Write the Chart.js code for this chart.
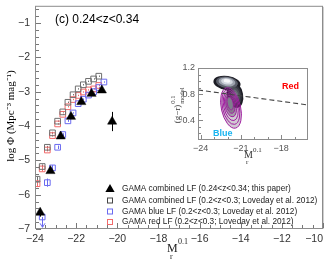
<!DOCTYPE html>
<html><head><meta charset="utf-8">
<script src="https://cdn.jsdelivr.net/npm/chart.js@4.4.0/dist/chart.umd.min.js"></script>
<style>
html,body{margin:0;padding:0;background:#fff;}
#wrap{position:relative;width:330px;height:259px;overflow:hidden;}
#main{position:absolute;left:0;top:0;}
#inset{position:absolute;left:160px;top:58px;}
</style></head><body>
<div id="wrap"><canvas id="main" width="330" height="259"></canvas><canvas id="inset" width="160" height="110"></canvas></div>
<script>
// ---------- data: main panel ----------
const xTickValues = [-24, -22, -20, -18, -16, -14, -12, -10];
const yTickValues = [-7, -6, -5, -4, -3, -2, -1];

const thisPaperMag = [-23.75, -23.25, -22.75, -22.25, -21.75, -21.25, -20.75, -20.25];
const thisPaperPhi = [-6.52, -5.31, -4.30, -3.73, -3.30, -3.06, -2.96, -3.87];
const thisPaperErr = [0.12, 0.06, 0.04, 0.03, 0.03, 0.03, 0.04, 0.28];

const lovAllMag = [-23.9, -23.65, -23.4, -23.15, -22.9, -22.65, -22.4, -22.15, -21.9, -21.65, -21.4, -21.15, -20.9];
const lovAllPhi = [-5.55, -5.18, -4.62, -4.20, -3.86, -3.59, -3.31, -3.09, -2.92, -2.80, -2.70, -2.63, -2.55];
const lovAllErr = [0.08, 0.06, 0.04, 0.03, 0.02, 0.02, 0.02, 0.02, 0.02, 0.02, 0.02, 0.02, 0.02];

const lovBlueMag = [-23.65, -23.4, -23.15, -22.9, -22.65, -22.4, -22.15, -21.9, -21.65, -21.4, -21.15, -20.9, -20.65];
const lovBluePhi = [-6.65, -5.65, -5.22, -4.62, -4.25, -3.85, -3.62, -3.35, -3.22, -3.10, -3.00, -2.88, -2.72];
const lovBlueErr = [0.30, 0.12, 0.08, 0.05, 0.04, 0.03, 0.02, 0.02, 0.02, 0.02, 0.02, 0.02, 0.02];
const lovBlueLimit = [true, false, false, false, false, false, false, false, false, false, false, false, false];

const lovRedMag = [-23.9, -23.65, -23.4, -23.15, -22.9, -22.65, -22.4, -22.15, -21.9, -21.65, -21.4, -21.15, -20.9];
const lovRedPhi = [-5.68, -5.25, -4.70, -4.28, -3.94, -3.66, -3.44, -3.23, -3.11, -3.01, -2.95, -2.92, -2.82];
const lovRedErr = [0.10, 0.07, 0.04, 0.03, 0.02, 0.02, 0.02, 0.02, 0.02, 0.02, 0.02, 0.02, 0.02];

const legendLabels = [
  'GAMA combined LF (0.24<z<0.34; this paper)',
  'GAMA combined LF (0.2<z<0.3; Loveday et al. 2012)',
  'GAMA blue LF (0.2<z<0.3; Loveday et al. 2012)',
  'GAMA red LF (0.2<z<0.3; Loveday et al. 2012)'
];
const panelLabel = '(c) 0.24<z<0.34';

// ---------- data: inset ----------
const insetXTicks = [-24, -21, -18];
const insetYTicks = [0.4, 0.8, 1.2];
const dividerX = [-24.2, -16];
const dividerY = [0.864, 0.635];
// red-sequence density lobes
const blobX = [-21.44, -22.04];
const blobY = [0.787, 0.971];
const blobRX = [0.60, 1.02];
const blobRY = [0.20, 0.108];
// blue-cloud contour levels (outer -> inner)
const contourX = [-21.74, -21.75, -21.76, -21.78, -21.79, -21.80];
const contourY = [0.589, 0.603, 0.617, 0.631, 0.645, 0.658];
const contourRX = [0.72, 0.62, 0.52, 0.42, 0.32, 0.22];
const contourRY = [0.315, 0.27, 0.225, 0.18, 0.14, 0.10];

const SANS = "'Liberation Sans', Arial, sans-serif";
const SERIF = "'Liberation Serif', 'Times New Roman', serif";
const zip = (a, b) => a.map((v, i) => ({x: v, y: b[i]}));
const fmtNeg = v => (v < 0 ? '\u2212' : '') + Math.abs(v);

const COL_GRAY = '#6e6e6e', COL_BLUE = '#6a6af0', COL_RED = '#f26a6a';

const errorSets = [
  {mag: lovAllMag, phi: lovAllPhi, err: lovAllErr, color: COL_GRAY},
  {mag: lovBlueMag, phi: lovBluePhi, err: lovBlueErr, color: COL_BLUE, limit: lovBlueLimit},
  {mag: lovRedMag, phi: lovRedPhi, err: lovRedErr, color: COL_RED},
  {mag: thisPaperMag, phi: thisPaperPhi, err: thisPaperErr, color: '#000'}
];

function fitFont(ctx, text, width, family, maxSize) {
  let s = maxSize;
  while (s > 5) { ctx.font = s + 'px ' + family; if (ctx.measureText(text).width <= width) break; s -= 0.25; }
  return s;
}

const mainDecor = {
  id: 'mainDecor',
  beforeDatasetsDraw(chart) {
    const {ctx, scales: {x, y}} = chart;
    errorSets.forEach(s => {
      ctx.save(); ctx.strokeStyle = s.color; ctx.fillStyle = s.color; ctx.lineWidth = 1;
      s.mag.forEach((m, i) => {
        const e = s.err[i]; if (!e) return;
        const px = Math.round(x.getPixelForValue(m)) + 0.5;
        const lo = y.getPixelForValue(s.phi[i] - e);
        const hi = s.limit && s.limit[i] ? y.getPixelForValue(s.phi[i]) : y.getPixelForValue(s.phi[i] + e);
        ctx.beginPath(); ctx.moveTo(px, lo); ctx.lineTo(px, hi); ctx.stroke();
        if (s.limit && s.limit[i]) {
          ctx.beginPath(); ctx.moveTo(px - 2.5, lo - 4); ctx.lineTo(px, lo); ctx.lineTo(px + 2.5, lo - 4); ctx.stroke();
        }
      });
      ctx.restore();
    });
  },
  afterDraw(chart) {
    const {ctx, chartArea: a, scales: {x, y}} = chart;
    ctx.save();
    // frame
    ctx.strokeStyle = '#8c8c8c'; ctx.lineWidth = 1;
    ctx.strokeRect(a.left + 0.5, a.top + 0.5, a.right - a.left - 1, a.bottom - a.top - 1);
    ctx.strokeStyle = '#cfcfcf';
    ctx.beginPath(); ctx.moveTo(a.right + 0.5, a.top + 1); ctx.lineTo(a.right + 0.5, a.bottom); ctx.stroke();
    // ticks (inward)
    ctx.strokeStyle = '#777';
    for (let i = -48; i <= -20; i++) {
      const v = i / 2, px = Math.round(x.getPixelForValue(v)) + 0.5;
      const len = (i % 4 === 0) ? 5 : 3;
      ctx.beginPath(); ctx.moveTo(px, a.bottom - 1); ctx.lineTo(px, a.bottom - 1 - len); ctx.stroke();
    }
    for (let i = -35; i <= -3; i++) {
      const v = i / 5, py = Math.round(y.getPixelForValue(v)) + 0.5;
      const len = (i % 5 === 0) ? 5 : 3;
      ctx.beginPath(); ctx.moveTo(a.left + 1, py); ctx.lineTo(a.left + 1 + len, py); ctx.stroke();
    }
    // x tick labels
    ctx.fillStyle = '#333'; ctx.font = '10.5px ' + SANS; ctx.textBaseline = 'middle'; ctx.textAlign = 'center';
    xTickValues.forEach(v => {
      const t = fmtNeg(v), w = ctx.measureText(t).width;
      let cx = x.getPixelForValue(v);
      if (cx + w / 2 > a.right) cx = a.right - w / 2;
      ctx.fillText(t, cx, a.bottom + 10);
    });
    // panel label
    ctx.fillStyle = '#000';
    fitFont(ctx, panelLabel, 88, SANS, 12);
    ctx.textAlign = 'left'; ctx.fillText(panelLabel, 55, 20);
    // y title (rotated)
    ctx.save();
    ctx.translate(11, 116); ctx.rotate(-Math.PI / 2);
    ctx.font = '11px ' + SERIF; ctx.textAlign = 'center'; ctx.fillStyle = '#000';
    ctx.fillText('log \u03A6 (Mpc\u207B\u00B3 mag\u207B\u00B9)', 0, 0);
    ctx.restore();
    // x title
    ctx.font = '12px ' + SERIF; ctx.textAlign = 'left'; ctx.fillStyle = '#222';
    ctx.fillText('M', 167, 249);
    ctx.font = '8px ' + SERIF;
    ctx.fillText('0.1', 178, 242);
    ctx.fillText('r', 170, 257);
    // legend
    const lx = 110, rows = [189, 200.5, 211.5, 222];
    const fs = fitFont(ctx, legendLabels[1], 196, SANS, 10);
    ctx.font = fs + 'px ' + SANS; ctx.fillStyle = '#222'; ctx.textAlign = 'left'; ctx.textBaseline = 'middle';
    legendLabels.forEach((t, i) => ctx.fillText(t, 122, rows[i]));
    ctx.fillStyle = '#000';
    ctx.beginPath(); ctx.moveTo(lx, rows[0] - 5); ctx.lineTo(lx + 4.6, rows[0] + 3); ctx.lineTo(lx - 4.6, rows[0] + 3); ctx.closePath(); ctx.fill();
    [COL_GRAY, COL_BLUE, COL_RED].forEach((c, i) => {
      ctx.strokeStyle = i === 0 ? '#444' : c; ctx.lineWidth = 1;
      ctx.strokeRect(lx - 2.5, rows[i + 1] - 2.5, 5, 5);
    });
    ctx.restore();
  }
};

const sq = (mag, phi, col) => ({data: zip(mag, phi), pointStyle: 'rect', pointRadius: 4, pointBorderWidth: 1,
  backgroundColor: 'rgba(0,0,0,0)', borderColor: col, showLine: false});

new Chart(document.getElementById('main'), {
  type: 'scatter',
  data: {datasets: [
    {data: zip(thisPaperMag, thisPaperPhi), pointStyle: 'triangle', pointRadius: 5.3, pointBorderWidth: 0.5,
      backgroundColor: '#000', borderColor: '#000', showLine: false},
    sq(lovAllMag, lovAllPhi, COL_GRAY),
    sq(lovBlueMag, lovBluePhi, COL_BLUE),
    sq(lovRedMag, lovRedPhi, COL_RED)
  ]},
  options: {
    responsive: false, animation: false, devicePixelRatio: 1,
    layout: {padding: {top: 2, right: 7, left: 0, bottom: 0}},
    plugins: {legend: {display: false}, tooltip: {enabled: false}},
    scales: {
      x: {type: 'linear', min: -24, max: -10,
        afterFit(s) { s.height = 30; s.paddingLeft = 0; s.paddingRight = 0; },
        afterBuildTicks(s) { s.ticks = xTickValues.map(v => ({value: v})); },
        ticks: {display: false}, grid: {display: false, drawTicks: false}, border: {display: false}},
      y: {type: 'linear', min: -7, max: -0.5,
        afterFit(s) { s.width = 35; s.paddingTop = 0; s.paddingBottom = 0; },
        afterBuildTicks(s) { s.ticks = yTickValues.map(v => ({value: v})); },
        ticks: {callback: v => fmtNeg(v), font: {family: SANS, size: 10.5}, color: '#333', padding: 5},
        grid: {display: false, drawTicks: false}, border: {display: false}}
    }
  },
  plugins: [mainDecor]
});

// ---------- inset ----------
const insetDecor = {
  id: 'insetDecor',
  beforeDatasetsDraw(chart) {
    const {ctx, chartArea: a, scales: {x, y}} = chart;
    ctx.save();
    ctx.beginPath(); ctx.rect(a.left, a.top, a.right - a.left, a.bottom - a.top); ctx.clip();
    const pxPerX = Math.abs(x.getPixelForValue(1) - x.getPixelForValue(0));
    const pxPerY = Math.abs(y.getPixelForValue(1) - y.getPixelForValue(0));
    const shades = [
      ['#1c1c24', '#34363f', '#4d5059', '#676b75', '#858a94'],
      ['#1c1c24', '#5a5e69', '#9ca2ad', '#d3d8df', '#f7f8fa']
    ];
    for (let k = 0; k < 5; k++) {
      blobX.forEach((bx, j) => {
        const f = 1 - k * 0.19;
        const cx = x.getPixelForValue(bx), cy = y.getPixelForValue(blobY[j] + (j === 1 ? k * 0.008 : 0));
        ctx.fillStyle = shades[j][k];
        ctx.beginPath(); ctx.ellipse(cx, cy, blobRX[j] * pxPerX * f, blobRY[j] * pxPerY * f, j === 0 ? -0.2 : 0.15, 0, Math.PI * 2); ctx.fill();
      });
    }
    // blue cloud contours
    contourX.forEach((cxv, i) => {
      const cx = x.getPixelForValue(cxv), cy = y.getPixelForValue(contourY[i]);
      ctx.beginPath(); ctx.ellipse(cx, cy, contourRX[i] * pxPerX, contourRY[i] * pxPerY, -0.22, 0, Math.PI * 2);
      if (i === 0) { ctx.fillStyle = 'rgba(70,40,80,0.25)'; ctx.fill(); }
      if (i >= 3) { ctx.fillStyle = i === 5 ? '#7e7e8c' : 'rgba(80,70,90,0.35)'; ctx.fill(); }
      ctx.strokeStyle = '#a01ea0'; ctx.lineWidth = 1; ctx.stroke();
    });
    ctx.restore();
  },
  afterDraw(chart) {
    const {ctx, chartArea: a, scales: {x, y}} = chart;
    ctx.save();
    ctx.strokeStyle = '#8c8c8c'; ctx.lineWidth = 1;
    ctx.strokeRect(a.left + 0.5, a.top + 0.5, a.right - a.left - 1, a.bottom - a.top - 1);
    ctx.strokeStyle = '#888';
    for (let v = -24; v <= -17; v++) {
      const px = Math.round(x.getPixelForValue(v)) + 0.5, len = (v % 3 === 0) ? 4 : 2;
      ctx.beginPath(); ctx.moveTo(px, a.bottom - 1); ctx.lineTo(px, a.bottom - 1 - len); ctx.stroke();
    }
    for (let i = 2; i <= 11; i++) {
      const py = Math.round(y.getPixelForValue(i / 10)) + 0.5, len = (i % 4 === 0) ? 4 : 2;
      ctx.beginPath(); ctx.moveTo(a.left + 1, py); ctx.lineTo(a.left + 1 + len, py); ctx.stroke();
    }
    // labels
    ctx.font = 'bold 9px ' + SANS; ctx.textBaseline = 'middle'; ctx.textAlign = 'left';
    ctx.fillStyle = '#ff0000'; ctx.fillText('Red', 122, 29);
    ctx.fillStyle = '#18b4f0'; ctx.fillText('Blue', 53, 76);
    // x title
    ctx.fillStyle = '#333';
    ctx.font = '10px ' + SERIF; ctx.fillText('M', 84, 97);
    ctx.font = '7px ' + SERIF; ctx.fillText('0.1', 93, 92); ctx.fillText('r', 86, 104);
    // y title rotated
    ctx.save();
    ctx.translate(18, 46); ctx.rotate(-Math.PI / 2);
    ctx.textAlign = 'left';
    ctx.font = '9px ' + SERIF;
    const base = '(g\u2212r)', bw = ctx.measureText(base).width;
    const start = -(bw + 20) / 2;
    ctx.fillText(base, start, 0);
    ctx.font = '6.5px ' + SERIF;
    ctx.fillText('0.1', start + bw + 1, -5);
    ctx.fillText('model', start + bw + 1, 4);
    ctx.restore();
    ctx.restore();
  }
};

new Chart(document.getElementById('inset'), {
  type: 'scatter',
  data: {datasets: [
    {data: zip(dividerX, dividerY), showLine: true, borderColor: '#444', borderWidth: 1.1, borderDash: [5, 3],
      pointRadius: 0, fill: false}
  ]},
  options: {
    responsive: false, animation: false, devicePixelRatio: 1,
    layout: {padding: {top: 10, right: 12, left: 0, bottom: 0}},
    plugins: {legend: {display: false}, tooltip: {enabled: false}},
    scales: {
      x: {type: 'linear', min: -24.2, max: -16,
        afterFit(s) { s.height = 28; s.paddingLeft = 0; s.paddingRight = 0; },
        afterBuildTicks(s) { s.ticks = insetXTicks.map(v => ({value: v})); },
        ticks: {callback: v => fmtNeg(v), font: {family: SANS, size: 9}, color: '#555', padding: 3, maxRotation: 0, autoSkip: false},
        grid: {display: false, drawTicks: false}, border: {display: false}},
      y: {type: 'linear', min: 0.1, max: 1.2,
        afterFit(s) { s.width = 38; s.paddingTop = 0; s.paddingBottom = 0; },
        afterBuildTicks(s) { s.ticks = insetYTicks.map(v => ({value: v})); },
        ticks: {callback: v => v.toFixed(1), font: {family: SANS, size: 9}, color: '#555', padding: 3},
        grid: {display: false, drawTicks: false}, border: {display: false}}
    }
  },
  plugins: [insetDecor]
});
</script>
</body></html>
